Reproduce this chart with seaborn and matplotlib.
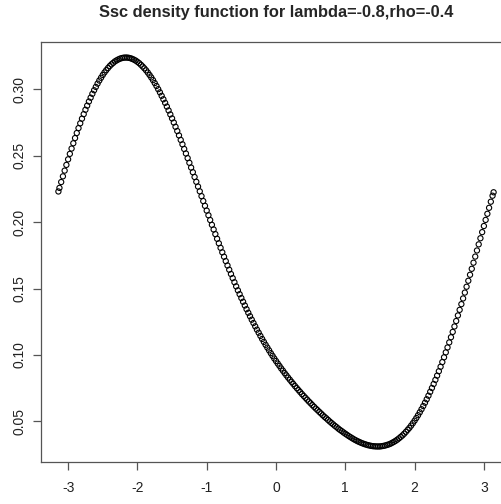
import numpy as np
import pandas as pd
import seaborn as sns
import matplotlib
matplotlib.use("Agg")
import matplotlib.pyplot as plt

# values (theta, density)
theta = [-3.14, -3.125, -3.10, -3.075, -3.05, -3.025, -3.00, -2.975, -2.95, -2.925,
         -2.90, -2.875, -2.85, -2.825, -2.80, -2.775, -2.75, -2.725, -2.70, -2.675,
         -2.65, -2.625, -2.60, -2.575, -2.55, -2.525, -2.50, -2.475, -2.45, -2.425,
         -2.40, -2.375, -2.35, -2.325, -2.30, -2.275, -2.25, -2.225, -2.20, -2.175,
         -2.15, -2.125, -2.10, -2.075, -2.05, -2.025, -2.00, -1.975, -1.95, -1.925,
         -1.90, -1.875, -1.85, -1.825, -1.80, -1.775, -1.75, -1.725, -1.70, -1.675,
         -1.65, -1.625, -1.60, -1.575, -1.55, -1.525, -1.50, -1.475, -1.45, -1.425,
         -1.40, -1.375, -1.35, -1.325, -1.30, -1.275, -1.25, -1.225, -1.20, -1.175,
         -1.15, -1.125, -1.10, -1.075, -1.05, -1.025, -1.00, -0.975, -0.95, -0.925,
         -0.90, -0.875, -0.85, -0.825, -0.80, -0.775, -0.75, -0.725, -0.70, -0.675,
         -0.65, -0.625, -0.60, -0.575, -0.55, -0.525, -0.50, -0.475, -0.45, -0.425,
         -0.40, -0.375, -0.35, -0.325, -0.30, -0.275, -0.25, -0.225, -0.20, -0.175,
         -0.15, -0.125, -0.10, -0.075, -0.05, -0.025, 0.00, 0.025, 0.05, 0.075,
         0.10, 0.125, 0.15, 0.175, 0.20, 0.225, 0.25, 0.275, 0.30, 0.325,
         0.35, 0.375, 0.40, 0.425, 0.45, 0.475, 0.50, 0.525, 0.55, 0.575,
         0.60, 0.625, 0.65, 0.675, 0.70, 0.725, 0.75, 0.775, 0.80, 0.825,
         0.85, 0.875, 0.90, 0.925, 0.95, 0.975, 1.00, 1.025, 1.05, 1.075,
         1.10, 1.125, 1.15, 1.175, 1.20, 1.225, 1.25, 1.275, 1.30, 1.325,
         1.35, 1.375, 1.40, 1.425, 1.45, 1.475, 1.50, 1.525, 1.55, 1.575,
         1.60, 1.625, 1.65, 1.675, 1.70, 1.725, 1.75, 1.775, 1.80, 1.825,
         1.85, 1.875, 1.90, 1.925, 1.95, 1.975, 2.00, 2.025, 2.05, 2.075,
         2.10, 2.125, 2.15, 2.175, 2.20, 2.225, 2.25, 2.275, 2.30, 2.325,
         2.35, 2.375, 2.40, 2.425, 2.45, 2.475, 2.50, 2.525, 2.55, 2.575,
         2.60, 2.625, 2.65, 2.675, 2.70, 2.725, 2.75, 2.775, 2.80, 2.825,
         2.85, 2.875, 2.90, 2.925, 2.95, 2.975, 3.00, 3.025, 3.05, 3.075,
         3.10, 3.125, 3.14]
density = [0.2231, 0.2258, 0.2302, 0.2345, 0.2388, 0.2431, 0.2473, 0.2514, 0.2554, 0.2594,
           0.2633, 0.2671, 0.2708, 0.2744, 0.2779, 0.2813, 0.2846, 0.2877, 0.2908, 0.2937,
           0.2966, 0.2993, 0.3018, 0.3043, 0.3066, 0.3087, 0.3108, 0.3127, 0.3144, 0.3160,
           0.3175, 0.3188, 0.3199, 0.3210, 0.3218, 0.3225, 0.3231, 0.3235, 0.3238, 0.3239,
           0.3239, 0.3237, 0.3234, 0.3229, 0.3223, 0.3216, 0.3207, 0.3197, 0.3185, 0.3172,
           0.3158, 0.3143, 0.3126, 0.3108, 0.3089, 0.3069, 0.3047, 0.3025, 0.3001, 0.2977,
           0.2951, 0.2925, 0.2898, 0.2870, 0.2841, 0.2811, 0.2781, 0.2750, 0.2718, 0.2686,
           0.2653, 0.2619, 0.2586, 0.2551, 0.2517, 0.2482, 0.2447, 0.2411, 0.2376, 0.2340,
           0.2304, 0.2268, 0.2232, 0.2196, 0.2159, 0.2123, 0.2087, 0.2052, 0.2016, 0.1980,
           0.1945, 0.1910, 0.1875, 0.1841, 0.1807, 0.1773, 0.1740, 0.1707, 0.1674, 0.1642,
           0.1610, 0.1579, 0.1548, 0.1517, 0.1487, 0.1458, 0.1429, 0.1401, 0.1373, 0.1345,
           0.1318, 0.1292, 0.1266, 0.1241, 0.1216, 0.1191, 0.1168, 0.1144, 0.1121, 0.1099,
           0.1077, 0.1056, 0.1035, 0.1014, 0.0994, 0.0974, 0.0955, 0.0936, 0.0918, 0.0899,
           0.0882, 0.0864, 0.0847, 0.0830, 0.0814, 0.0798, 0.0782, 0.0766, 0.0751, 0.0736,
           0.0721, 0.0706, 0.0692, 0.0678, 0.0664, 0.0650, 0.0637, 0.0623, 0.0610, 0.0597,
           0.0585, 0.0572, 0.0560, 0.0547, 0.0535, 0.0524, 0.0512, 0.0500, 0.0489, 0.0478,
           0.0467, 0.0457, 0.0446, 0.0436, 0.0427, 0.0417, 0.0408, 0.0399, 0.0390, 0.0382,
           0.0374, 0.0366, 0.0359, 0.0352, 0.0346, 0.0340, 0.0335, 0.0330, 0.0326, 0.0322,
           0.0319, 0.0316, 0.0314, 0.0313, 0.0312, 0.0312, 0.0312, 0.0314, 0.0316, 0.0319,
           0.0323, 0.0327, 0.0332, 0.0339, 0.0346, 0.0354, 0.0363, 0.0373, 0.0384, 0.0395,
           0.0408, 0.0422, 0.0437, 0.0452, 0.0469, 0.0487, 0.0506, 0.0526, 0.0547, 0.0569,
           0.0592, 0.0616, 0.0641, 0.0667, 0.0694, 0.0723, 0.0752, 0.0782, 0.0813, 0.0845,
           0.0878, 0.0912, 0.0947, 0.0983, 0.1020, 0.1057, 0.1095, 0.1134, 0.1174, 0.1215,
           0.1256, 0.1298, 0.1340, 0.1383, 0.1426, 0.1470, 0.1514, 0.1559, 0.1604, 0.1649,
           0.1695, 0.1741, 0.1787, 0.1833, 0.1879, 0.1925, 0.1971, 0.2017, 0.2063, 0.2108,
           0.2154, 0.2199, 0.2225]

xticks = [-3, -2, -1, 0, 1, 2, 3]
yticks = [0.05, 0.10, 0.15, 0.20, 0.25, 0.30]
title = "Ssc density function for lambda=-0.8,rho=-0.4"

df = pd.DataFrame({"theta": theta, "density": density})

sns.set_style("white")
plt.rcParams["font.family"] = ["Liberation Sans", "DejaVu Sans"]
plt.rcParams["axes.unicode_minus"] = False

fig = plt.figure(figsize=(5.01, 5.04), dpi=100)
# R style plot region, right side runs off the picture like the reference
ax = fig.add_axes([41 / 501, 42 / 504, 470 / 501, 420 / 504])

sns.scatterplot(data=df, x="theta", y="density", ax=ax,
                marker="o", s=14, facecolor="none", edgecolor="black",
                linewidth=0.8)

# R adds 4% padding on each side
xr = max(theta) - min(theta)
yr = max(density) - min(density)
ax.set_xlim(min(theta) - 0.04 * xr, max(theta) + 0.04 * xr)
ax.set_ylim(min(density) - 0.04 * yr, max(density) + 0.04 * yr)

ax.set_xticks(xticks)
ax.set_xticklabels([str(t) for t in xticks])
ax.set_yticks(yticks)
ax.set_yticklabels([f"{t:.2f}" for t in yticks], rotation=90, va="center")
ax.set_xlabel("")
ax.set_ylabel("")

for side in ["left", "bottom", "top", "right"]:
    ax.spines[side].set_color("#555555")
    ax.spines[side].set_linewidth(0.9)
ax.tick_params(axis="both", direction="out", length=5.5, width=0.9,
               color="#555555", labelsize=10, labelcolor="#222222",
               bottom=True, left=True)
ax.tick_params(axis="x", pad=8)
ax.tick_params(axis="y", pad=5)

fig.text(276 / 501, 1 - 12 / 504, title, ha="center", va="center",
         fontsize=11.8, fontweight="bold")

fig.savefig("out.png", dpi=100)
